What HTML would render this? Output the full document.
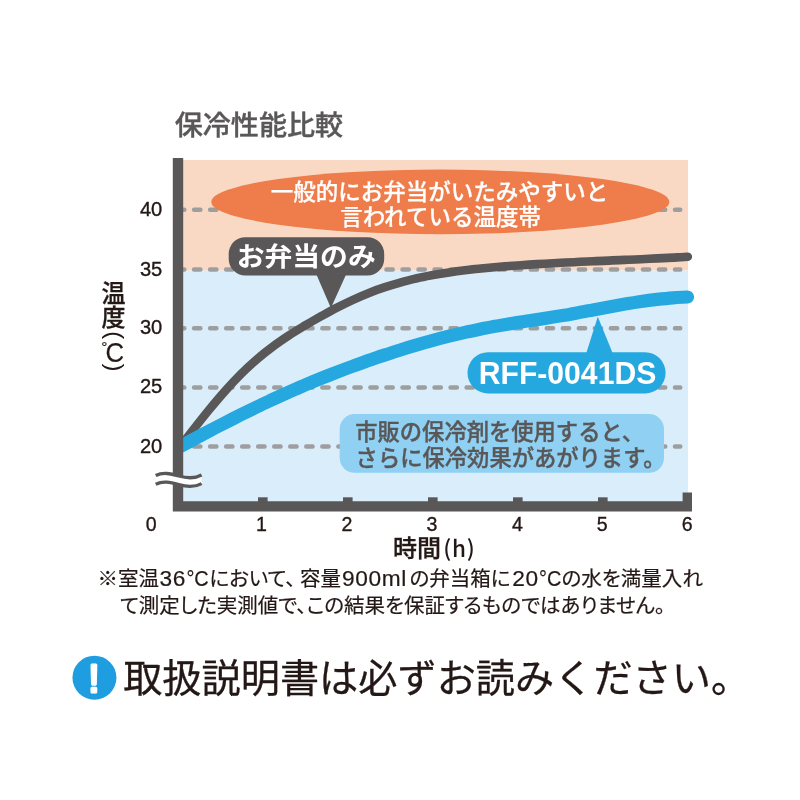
<!DOCTYPE html>
<html lang="ja"><head><meta charset="utf-8"><title>保冷性能比較</title>
<style>
html,body{margin:0;padding:0;background:#fff}
body{width:800px;height:800px;overflow:hidden}
svg{display:block}
text{font-family:"Liberation Sans","Noto Sans CJK JP",sans-serif}
.jp{font-family:"Noto Sans CJK JP","Liberation Sans",sans-serif}
.h{font-feature-settings:"palt" 1}
</style></head><body>
<svg width="800" height="800" viewBox="0 0 800 800">
<rect width="800" height="800" fill="#fff"/>
<text class="jp" x="174.7" y="135.3" font-size="27" fill="#595757" stroke="#595757" stroke-width="0.35" font-weight="500" textLength="168.5" lengthAdjust="spacingAndGlyphs">保冷性能比較</text>
<rect x="178" y="160" width="510" height="110.6" fill="#fad9c4"/>
<rect x="178" y="270.6" width="510" height="235.4" fill="#d9edfa"/>
<g stroke="#9e9e9f" stroke-width="4.6" stroke-dasharray="6.2 9.83" stroke-linecap="round" fill="none">
<line x1="178.1" y1="209.8" x2="680.2" y2="209.8"/><line x1="178.1" y1="269.5" x2="680.2" y2="269.5"/><line x1="178.1" y1="328.2" x2="680.2" y2="328.2"/><line x1="178.1" y1="387.5" x2="680.2" y2="387.5"/><line x1="178.1" y1="446.5" x2="680.2" y2="446.5"/>
</g>
<ellipse cx="440.3" cy="201.9" rx="229" ry="32.3" fill="#ee7d4b"/>
<g class="jp" font-size="22.5" fill="#fff" stroke="#fff" stroke-width="0.25" font-weight="500" text-anchor="middle">
<text x="439.4" y="199.5">一般的にお弁当がいたみやすいと</text>
<text x="440.6" y="225.3">言われている温度帯</text>
</g>
<rect x="339.7" y="414" width="324.3" height="58.8" rx="15" fill="#8fd0f3"/>
<g class="jp" font-size="22.3" fill="#595757" stroke="#595757" stroke-width="0.35" font-weight="500">
<text x="355.2" y="439.6">市販の保冷剤を使用すると、</text>
<text x="355.6" y="466">さらに保冷効果があがります。</text>
</g>
<clipPath id="cc"><rect x="178" y="150" width="600" height="360"/></clipPath>
<g clip-path="url(#cc)" fill="none" stroke-linecap="round">
<path d="M177.0,450.9 C179.7,447.4 187.7,436.9 193.0,430.0 C198.3,423.2 203.7,416.4 209.0,409.9 C214.3,403.5 219.7,397.1 225.0,391.1 C230.3,385.1 235.7,379.3 241.0,374.0 C246.3,368.7 251.7,363.8 257.0,359.2 C262.3,354.6 267.7,350.4 273.0,346.5 C278.3,342.5 283.7,338.9 289.0,335.4 C294.3,331.9 299.7,328.7 305.0,325.5 C310.3,322.4 315.7,319.3 321.0,316.3 C326.3,313.4 331.7,310.4 337.0,307.7 C342.3,304.9 347.7,302.2 353.0,299.8 C358.3,297.3 363.7,295.0 369.0,292.9 C374.3,290.8 379.7,288.9 385.0,287.2 C390.3,285.4 395.7,283.8 401.0,282.3 C406.3,280.9 411.7,279.6 417.0,278.3 C422.3,277.1 427.7,276.1 433.0,275.1 C438.3,274.1 443.7,273.2 449.0,272.4 C454.3,271.6 459.7,270.9 465.0,270.3 C470.3,269.6 475.7,269.1 481.0,268.5 C486.3,268.0 491.7,267.5 497.0,267.0 C502.3,266.6 507.7,266.2 513.0,265.8 C518.3,265.4 523.7,265.0 529.0,264.6 C534.3,264.3 539.7,264.0 545.0,263.7 C550.3,263.4 555.7,263.1 561.0,262.8 C566.3,262.5 571.7,262.2 577.0,262.0 C582.3,261.7 587.7,261.5 593.0,261.3 C598.3,261.0 603.7,260.8 609.0,260.6 C614.3,260.3 619.7,260.1 625.0,259.9 C630.3,259.6 635.7,259.4 641.0,259.2 C646.3,258.9 651.7,258.7 657.0,258.4 C662.3,258.1 667.9,257.9 673.0,257.6 C678.1,257.3 685.3,256.9 687.8,256.7" stroke="#595757" stroke-width="8.6"/>
<path d="M177.0,448.3 C179.7,446.8 187.7,442.5 193.0,439.6 C198.3,436.8 203.7,433.9 209.0,431.1 C214.3,428.3 219.7,425.5 225.0,422.8 C230.3,420.1 235.7,417.4 241.0,414.7 C246.3,412.0 251.7,409.4 257.0,406.9 C262.3,404.3 267.7,401.8 273.0,399.3 C278.3,396.8 283.7,394.4 289.0,392.0 C294.3,389.6 299.7,387.3 305.0,385.0 C310.3,382.8 315.7,380.6 321.0,378.4 C326.3,376.3 331.7,374.2 337.0,372.1 C342.3,370.0 347.7,368.0 353.0,366.1 C358.3,364.1 363.7,362.2 369.0,360.3 C374.3,358.5 379.7,356.6 385.0,354.9 C390.3,353.1 395.7,351.4 401.0,349.7 C406.3,348.0 411.7,346.4 417.0,344.9 C422.3,343.3 427.7,341.8 433.0,340.4 C438.3,338.9 443.7,337.5 449.0,336.2 C454.3,334.9 459.7,333.6 465.0,332.4 C470.3,331.2 475.7,330.1 481.0,329.0 C486.3,328.0 491.7,326.9 497.0,326.0 C502.3,325.0 507.7,324.2 513.0,323.3 C518.3,322.4 523.7,321.6 529.0,320.8 C534.3,320.0 539.7,319.2 545.0,318.4 C550.3,317.5 555.7,316.7 561.0,315.8 C566.3,314.9 571.7,313.9 577.0,312.9 C582.3,312.0 587.7,310.9 593.0,309.9 C598.3,308.9 603.7,307.9 609.0,306.9 C614.3,306.0 619.7,305.0 625.0,304.1 C630.3,303.2 635.7,302.3 641.0,301.5 C646.3,300.7 651.7,300.0 657.0,299.4 C662.3,298.8 667.9,298.2 673.0,297.8 C678.1,297.4 685.1,297.2 687.5,297.0" stroke="#25a8e0" stroke-width="13.2"/>
</g>
<path d="M172.8,158 H183.2 V501.2 H682.6 V492.5 H692 V511.4 H172.8 Z" fill="#595757"/>
<g fill="#595757"><rect x="258.00" y="497.3" width="9.6" height="5"/><rect x="343.00" y="497.3" width="9.6" height="5"/><rect x="428.00" y="497.3" width="9.6" height="5"/><rect x="513.00" y="497.3" width="9.6" height="5"/><rect x="598.00" y="497.3" width="9.6" height="5"/></g>
<path d="M155.7,475.6 C163,472 170,473.5 178.8,476 C188,478.6 195,478.6 201.6,475 V483.4 C195,487 188,487 178.8,484.4 C170,481.9 163,480.4 155.7,484 Z" fill="#fff"/>
<g fill="none" stroke="#595757" stroke-width="3.3">
<path d="M155.7,475.6 C163,472 170,473.5 178.8,476 C188,478.6 195,478.6 201.6,475"/>
<path d="M155.7,484.2 C163,480.6 170,482.1 178.8,484.6 C188,487.2 195,487.2 201.6,483.6"/>
</g>
<path d="M316.2,274 L330.9,308 L346.3,274 Z" fill="#595757"/>
<rect x="228.7" y="237.2" width="155.5" height="38.2" rx="16.5" fill="#595757"/>
<text class="jp" x="306.2" y="266.4" font-size="26.6" fill="#fff" font-weight="700" text-anchor="middle" textLength="139" lengthAdjust="spacingAndGlyphs">お弁当のみ</text>
<path d="M586,354 L597.8,316.8 L613,354 Z" fill="#25a8e0"/>
<rect x="467.5" y="352.3" width="198.1" height="41.1" rx="20.5" fill="#25a8e0"/>
<text x="567.5" y="384" font-size="30.5" fill="#fff" font-weight="700" text-anchor="middle" textLength="177.5" lengthAdjust="spacingAndGlyphs">RFF-0041DS</text>
<g font-size="19.6" fill="#231815" stroke="#231815" stroke-width="0.35" text-anchor="middle"><text x="151.1" y="215.8" textLength="22.4" lengthAdjust="spacingAndGlyphs">40</text><text x="151.1" y="275.5" textLength="22.4" lengthAdjust="spacingAndGlyphs">35</text><text x="151.1" y="334.0" textLength="22.4" lengthAdjust="spacingAndGlyphs">30</text><text x="151.1" y="392.6" textLength="22.4" lengthAdjust="spacingAndGlyphs">25</text><text x="151.1" y="452.5" textLength="22.4" lengthAdjust="spacingAndGlyphs">20</text><text x="151.1" y="531">0</text><text x="261.5" y="531">1</text><text x="347" y="531">2</text><text x="432" y="531">3</text><text x="517.5" y="531">4</text><text x="602.2" y="531">5</text><text x="687.3" y="531">6</text></g>
<g class="jp" fill="#231815" stroke="#231815" stroke-width="0.3" font-weight="500" font-size="24" text-anchor="middle">
<text x="113.5" y="302">温</text>
<text x="113.5" y="325.6">度</text>
<text x="104.3" y="352.3" font-size="15.5" font-family="Liberation Sans" font-weight="400" stroke-width="0.2">°</text>
<text x="114.7" y="362.2" font-size="27.5" font-family="Liberation Sans" font-weight="400" stroke-width="0.15" textLength="18.6" lengthAdjust="spacingAndGlyphs">C</text>
<text transform="translate(107.2,335.2) rotate(90)" stroke="none">(</text>
<text transform="translate(107.2,367.4) rotate(90)" stroke="none">)</text>
</g>
<text class="jp" x="393" y="557" font-size="24" fill="#231815" stroke="#231815" stroke-width="0.3" font-weight="500">時間<tspan stroke="none" font-size="22.5" dx="2.3" dy="-0.5" letter-spacing="0.7">(h)</tspan></text>
<g class="jp h" font-size="20.5" fill="#231815" stroke="#231815" stroke-width="0.2" font-weight="400">
<text id="f1" y="585.7"><tspan x="97.6">※室温</tspan><tspan x="159.6" font-family="Liberation Sans" font-size="22.7" letter-spacing="0.6">36</tspan><tspan x="186.4" font-family="Liberation Sans" font-size="22.7" textLength="22.3" lengthAdjust="spacingAndGlyphs">°C</tspan><tspan x="209.5">において、</tspan><tspan x="300">容量</tspan><tspan x="342" font-family="Liberation Sans" font-size="22.7" letter-spacing="0.6">900ml</tspan><tspan x="409.5">の弁当箱に</tspan><tspan x="512.3" font-family="Liberation Sans" font-size="22.7" letter-spacing="0.6">20</tspan><tspan x="539" font-family="Liberation Sans" font-size="22.7" textLength="22.3" lengthAdjust="spacingAndGlyphs">°C</tspan><tspan x="561.5">の水を満量入れ</tspan></text>
<text id="f2" y="612.6"><tspan x="120">て測定した実測値で、この結果を保証するものではありません。</tspan></text>
</g>
<circle cx="94.45" cy="677.7" r="22" fill="#1e9ee0"/>
<text x="93.9" y="692.2" font-size="39" fill="#fff" stroke="#fff" stroke-width="3" stroke-linejoin="round" font-weight="400" text-anchor="middle">!</text>
<text class="jp" x="123.2" y="691.7" font-size="39.2" fill="#231815" stroke="#231815" stroke-width="0.3" font-weight="400">取扱説明書は必ずお読みください。</text>
</svg>
</body></html>
